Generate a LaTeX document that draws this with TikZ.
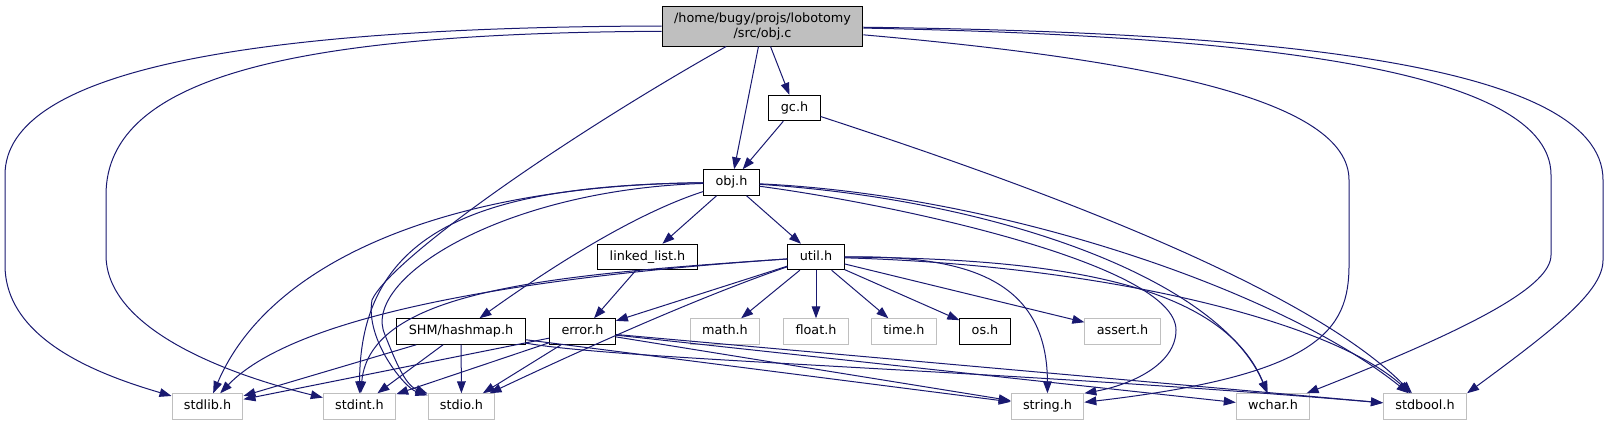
\documentclass[tikz,border=0pt]{standalone}
\usepackage{fontspec}
\setmainfont{DejaVu Sans}
\usetikzlibrary{arrows.meta}
\definecolor{edgeblue}{HTML}{191970}
\definecolor{sysgray}{HTML}{BFBFBF}

\begin{document}
\begin{tikzpicture}[
    x=0.75pt, y=-0.75pt,
    box/.style={rectangle, draw=black, fill=white, line width=0.75pt, inner xsep=8.9pt, inner ysep=0pt, align=center, font=\fontsize{9.6}{11.25}\selectfont},
    srcfile/.style={box, fill=sysgray, minimum height=30pt},
    localhdr/.style={box, minimum height=19.1pt, text height=7.3pt, text depth=2.3pt},
    syshdr/.style={localhdr, draw=sysgray},
    incl/.style={-{Triangle[length=9pt, width=6.5pt]}, line width=0.75pt, color=edgeblue}
]
    \useasboundingbox (0,0) rectangle (1608,425);

    % Source file and its local headers
    \node (objc) [srcfile] at (762.5,26) {/home/bugy/projs/lobotomy\\/src/obj.c};
    \node (gch) [localhdr] at (794.5,108) {gc.h};
    \node (objh) [localhdr] at (731.5,182.5) {obj.h};
    \node (llist) [localhdr] at (647.5,257) {linked\_list.h};
    \node (util) [localhdr] at (816,257) {util.h};
    \node (hmap) [localhdr] at (461,331.5) {SHM/hashmap.h};
    \node (err) [localhdr] at (582.5,331.5) {error.h};
    \node (osh) [localhdr] at (985,331.5) {os.h};

    % System headers
    \node (mathh) [syshdr] at (725,331.5) {math.h};
    \node (floath) [syshdr] at (816,331.5) {float.h};
    \node (timeh) [syshdr] at (904,331.5) {time.h};
    \node (asserth) [syshdr] at (1122.5,331.5) {assert.h};
    \node (stdlibh) [syshdr] at (207.5,406.5) {stdlib.h};
    \node (stdinth) [syshdr] at (359.5,406.5) {stdint.h};
    \node (stdioh) [syshdr] at (461.5,406.5) {stdio.h};
    \node (stringh) [syshdr] at (1047.5,406.5) {string.h};
    \node (wcharh) [syshdr] at (1273,406.5) {wchar.h};
    \node (stdboolh) [syshdr] at (1425,406.5) {stdbool.h};

    % Includes of obj.c
    \draw [incl] (objc.west) .. controls (250,27) and (5,70) .. (5,175) -- (5,265) .. controls (5,340) and (100,375) .. (stdlibh);
    \draw [incl] (objc.183) .. controls (300,33) and (106,75) .. (106,195) -- (106,255) .. controls (106,330) and (230,375) .. (stdinth);
    \draw [incl] (objc) .. controls (560,140) and (390,260) .. (372,300) .. controls (365,340) and (405,388) .. (stdioh);
    \draw [incl] (objc) -- (objh);
    \draw [incl] (objc) -- (gch);
    \draw [incl] (objc) .. controls (1150,60) and (1349,100) .. (1349,180) -- (1349,265) .. controls (1349,330) and (1320,375) .. (stringh);
    \draw [incl] (objc) .. controls (1200,35) and (1551,60) .. (1551,175) -- (1551,255) .. controls (1551,285) and (1480,325) .. (wcharh);
    \draw [incl] (objc) .. controls (1250,32) and (1603,60) .. (1603,180) -- (1603,260) .. controls (1603,290) and (1560,325) .. (stdboolh.north east);

    % Includes of gc.h
    \draw [incl] (gch) -- (objh);
    \draw [incl] (gch) .. controls (1000,175) and (1300,280) .. (stdboolh);

    % Includes of obj.h
    \draw [incl] (objh) -- (llist);
    \draw [incl] (objh) -- (util);
    \draw [incl] (objh) .. controls (630,215) and (540,275) .. (hmap);
    \draw [incl] (objh) .. controls (450,185) and (270,260) .. (stdlibh);
    \draw [incl] (objh) .. controls (480,185) and (360,230) .. (stdinth);
    \draw [incl] (objh) .. controls (500,190) and (360,280) .. (385,335) .. controls (395,360) and (405,385) .. (stdioh);
    \draw [incl] (objh) .. controls (900,205) and (1176,265) .. (1176,330) .. controls (1176,365) and (1130,385) .. (stringh.north east);
    \draw [incl] (objh) .. controls (1000,200) and (1220,280) .. (wcharh);
    \draw [incl] (objh) .. controls (1000,195) and (1280,290) .. (stdboolh);

    % Includes of linked_list.h
    \draw [incl] (llist) -- (err);

    % Includes of util.h
    \draw [incl] (util) -- (err);
    \draw [incl] (util) .. controls (550,275) and (300,310) .. (stdlibh);
    \draw [incl] (util) .. controls (550,275) and (370,290) .. (stdinth);
    \draw [incl] (util) .. controls (690,300) and (560,360) .. (stdioh);
    \draw [incl] (util) -- (mathh);
    \draw [incl] (util) -- (floath);
    \draw [incl] (util) -- (timeh);
    \draw [incl] (util) -- (osh);
    \draw [incl] (util) -- (asserth);
    \draw [incl] (util) .. controls (950,256) and (1047,270) .. (stringh);
    \draw [incl] (util) .. controls (1080,258) and (1225,290) .. (wcharh);
    \draw [incl] (util) .. controls (1100,265) and (1330,320) .. (stdboolh);

    % Includes of SHM/hashmap.h
    \draw [incl] (hmap) -- (stdlibh);
    \draw [incl] (hmap) -- (stdinth);
    \draw [incl] (hmap) -- (stdioh);
    \draw [incl] (hmap) -- (stringh);
    \draw [incl] (hmap) .. controls (620,360) and (1000,370) .. (stdboolh);

    % Includes of error.h
    \draw [incl] (err) -- (stdlibh);
    \draw [incl] (err) -- (stdinth);
    \draw [incl] (err) -- (stdioh);
    \draw [incl] (err) -- (stringh);
    \draw [incl] (err) -- (wcharh);
    \draw [incl] (err) -- (stdboolh);

\end{tikzpicture}
\end{document}
